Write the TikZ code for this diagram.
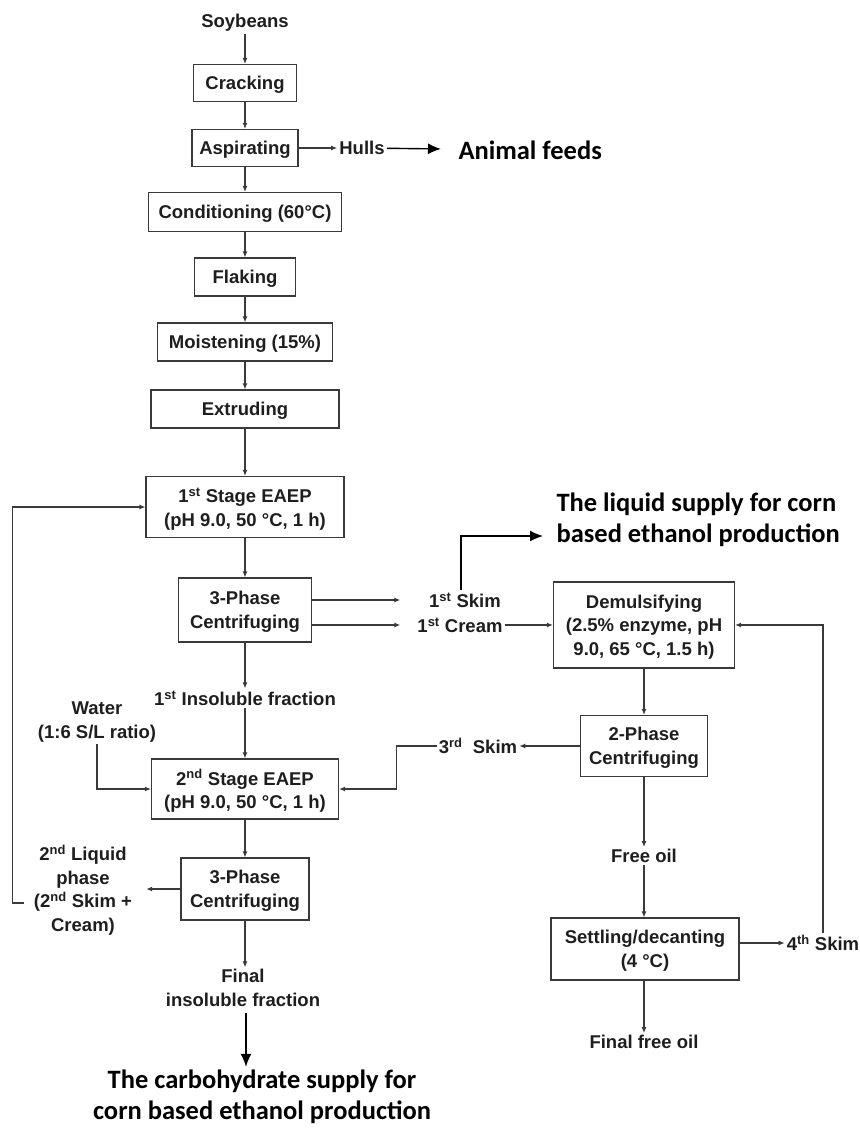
\documentclass[tikz,border=0pt]{standalone}
\usepackage{fontspec}
\setmainfont{Liberation Sans}
\newfontfamily\calfont{Carlito}
\usetikzlibrary{arrows.meta}
\definecolor{lineg}{HTML}{3A3A3A}
\definecolor{textk}{HTML}{1E1E1E}

\begin{document}
\begin{tikzpicture}[x=1pt, y=-1pt, text=textk,
    font=\bfseries\fontsize{18.5}{23.5}\selectfont,
    box/.style={draw=lineg, line width=1.2pt, align=center, inner sep=2pt, text depth=0pt},
    lbl/.style={align=center, inner sep=2pt},
    big/.style={font=\calfont\bfseries\fontsize{26.5}{30.5}\selectfont, text=black},
    arr/.style={draw=lineg, line width=1.1pt, -{Latex[length=6pt,width=5pt]}},
    bigarr/.style={draw=black, line width=1.4pt, -{Latex[length=13pt,width=11pt]}}]
    \useasboundingbox (0,0) rectangle (860,1128);

    % main column
    \node[lbl] (soy) at (245,23) {Soybeans};
    \node[box, minimum width=103pt, minimum height=37pt] (crack) at (245,83) {Cracking};
    \node[box, minimum width=106pt, minimum height=37pt] (aspir) at (245,148) {Aspirating};
    \node[box, minimum width=193pt, minimum height=39pt] (cond) at (245,212) {Conditioning (60°C)};
    \node[box, minimum width=101pt, minimum height=38pt] (flake) at (245,277) {Flaking};
    \node[box, minimum width=175pt, minimum height=38pt] (moist) at (245,342) {Moistening (15\%)};
    \node[box, minimum width=188pt, minimum height=38pt] (extr) at (245,409) {Extruding};
    \node[box, minimum width=198pt, minimum height=61pt] (st1) at (245,507) {1\textsuperscript{st} Stage EAEP\\(pH 9.0, 50 °C, 1 h)};
    \node[box, minimum width=133pt, minimum height=64pt] (cen1) at (245,610) {3-Phase\\Centrifuging};
    \node[lbl] (ins1) at (245,698) {1\textsuperscript{st} Insoluble fraction};
    \node[box, minimum width=187pt, minimum height=60pt] (st2) at (245,789) {2\textsuperscript{nd} Stage EAEP\\(pH 9.0, 50 °C, 1 h)};
    \node[box, minimum width=128pt, minimum height=62pt] (cen2) at (245,889) {3-Phase\\Centrifuging};
    \node[lbl] (finins) at (243,988) {Final\\insoluble fraction};
    \node[big, align=center] (carbo) at (262,1097) {The carbohydrate supply for\\corn based ethanol production};

    \node[lbl] (hulls) at (362,148) {Hulls};
    \node[big, anchor=west] (feeds) at (455,150) {Animal feeds};
    \node[lbl] (water) at (97,722) {Water\\(1:6 S/L ratio)};
    \node[lbl] (liq2) at (83,890) {2\textsuperscript{nd} Liquid\\phase\\(2\textsuperscript{nd} Skim +\\Cream)};

    % right column
    \node[lbl] (skim1) at (465,600) {1\textsuperscript{st} Skim};
    \node[lbl] (cream1) at (460,625) {1\textsuperscript{st} Cream};
    \node[big, anchor=west, align=left] (liquid) at (553,520) {The liquid supply for corn\\based ethanol production};
    \node[box, minimum width=181pt, minimum height=86pt] (demul) at (644,625) {Demulsifying\\(2.5\% enzyme, pH\\9.0, 65 °C, 1.5 h)};
    \node[box, minimum width=127pt, minimum height=61pt] (cen3) at (644,746) {2-Phase\\Centrifuging};
    \node[lbl] (skim3) at (478,746) {3\textsuperscript{rd}\ \ Skim};
    \node[lbl] (free) at (644,856) {Free oil};
    \node[box, minimum width=188pt, minimum height=62pt] (settle) at (645,949) {Settling/decanting\\(4 °C)};
    \node[lbl] (skim4) at (823,943) {4\textsuperscript{th} Skim};
    \node[lbl] (finoil) at (644,1042) {Final free oil};

    \foreach \a/\b in {soy/crack, crack/aspir, aspir/cond, cond/flake, flake/moist,
        moist/extr, extr/st1, st1/cen1, cen1/ins1, ins1/st2, st2/cen2,
        demul/cen3, cen3/free}
    \draw[arr] (\a) -- (\b);
    \draw[arr] (cen2) -- (cen2 |- finins.north);
    \draw[arr] (free) -- (free |- settle.north);
    \draw[arr] (free |- settle.south) -- (finoil);

    \draw[arr] (aspir) -- (hulls);
    \draw[bigarr, shorten >=14pt] (hulls) -- (feeds);

    \draw[arr] (cen1.east |- skim1) -- ([xshift=-15pt]cream1.west |- skim1);
    \draw[arr] (cen1.east |- cream1) -- ([xshift=-15pt]cream1.west);
    \draw[arr] (cream1) -- (demul);
    \draw[bigarr] ([xshift=-4pt]skim1.north) |- ([shift={(-10,16)}]liquid.west);

    \draw[arr] (cen3) -- (skim3);
    \draw[arr] (skim3.west) -- ++(-40,0) |- (st2.east);
    \draw[arr] (water.south) |- (st2.west);

    \draw[arr] (cen2.west) -- ([xshift=12pt]liq2.east |- cen2.west);
    \draw[arr] ([shift={(-8,13)}]liq2.west) -- ++(-11,0) |- (st1.west);

    \draw[arr] (settle.east |- skim4) -- (skim4);
    \draw[arr] (skim4.north) |- (demul.east);

    \draw[bigarr, shorten <=4pt] ([xshift=3pt]finins.south) -- ([xshift=3pt]finins.south |- carbo.north);
\end{tikzpicture}
\end{document}
